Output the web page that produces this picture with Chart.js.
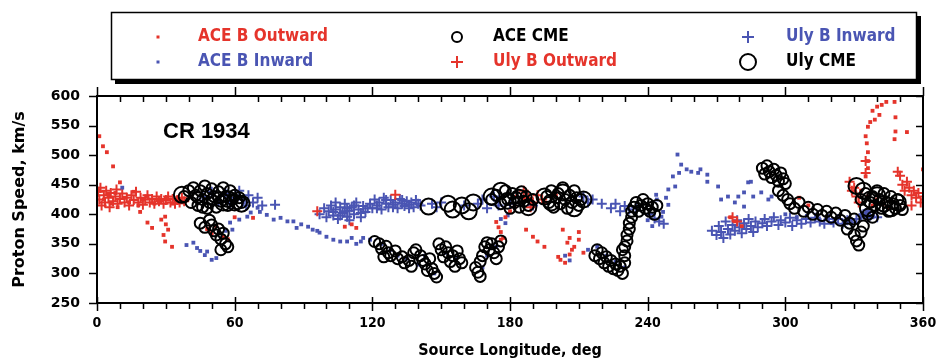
<!DOCTYPE html>
<html>
<head>
<meta charset="utf-8">
<script src="https://cdn.jsdelivr.net/npm/chart.js@4.4.0/dist/chart.umd.min.js"></script>
<style>
  html, body { margin: 0; padding: 0; background: #fff; }
</style>
</head>
<body>
<canvas id="myChart" width="938" height="360"></canvas>
<script>
// values: [source longitude (deg), proton speed (km/s)]
const aceOutward = [
  [1,532],[2.6,515],[4.3,505],[7,481],[10,454],
  [1,440],[3,425],[5,432],[6,418],[8,436],[9,412],[12,428],[14,420],[16,438],[18,415],[20,425],[22,430],
  [25,418],[27,422],[30,426],[33,418],[35,428],[37,420],
  [18.8,404],[22,386],[24,377],[28,391],[29.7,396],[29,365],[29.7,354],[32.7,345],[31,374],[30,383],
  [48,375],[50,368],[52,380],[55,362],[57,358],[60,395],[68,394],
  [108,379],[113,377],[111,383],
  [174,387],[175,378],[176,370],[177,360],[176,357],[178,395],[180,405],[182,412],
  [187,374],[190,362],[192,354],[195,345],
  [201,328],[202,323],[203,374],[205,352],[206,360],[206,332],[207,340],[210,370],[210,357],[212,335],[204,318],[208,345],
  [183,430],[186,425],[195,420],[200,432],
  [276,395],[278,388],[281,380],[306,428],[310,415],
  [335,532],[335.5,520],[336,505],[336,490],[336,478],[335,464],[336,548],[337,556],[338,575],[340,582],
  [342,585],[344,590],[347.6,590],[348,564],[348,540],[353,539],[347.6,527],[341,568],[339,560],
  [333,440],[336,430],[340,425],[343,418],[338,415],[345,410],[360,476]
];
const aceInward = [
  [11,445],[39,348],[42,352],[43.6,343],[47,331],[48,337],[52,326],[50,323],[45,338],
  [58,386],[59,374],[62,391],[65.5,396],[67,403],[70,411],[71,404],[56,372],[54,360],
  [74,399],[77,391],[80,394],[83,388],[85.6,388],[87,377],[92,379],[94,374],[97,369],[100,362],
  [103,357],[106,354],[109,354],[111,360],[115,354],[116,360],[119,357],[89,383],[96,372],[113,350],
  [124,350],[128,340],[131,330],[135,325],[140,315],[143,330],[147,300],[152,335],[156,325],
  [168,310],[170,330],[174,345],[176,392],[179,398],[178,385],
  [206,322],[204,330],[214,340],[218,345],[222,330],[226,320],[230,310],
  [246,396],[246.7,404],[249,416],[248,428],[243.7,433],[249,442],[252,447],[251,464],[253.7,470],
  [254.6,484],[253,501],[257,476],[259,472],[262,470],[263,476],[266,467],[266,455],[270.7,447],
  [244,425],[240,390],[242,380],
  [275,430],[278,420],[279.5,430],[282,437],[283.8,454],[285,455],[282,413],[286,430],[289.5,437],
  [292.6,425],[294,430],[272,425],
  [300,400],[305,395],[315,390],[320,385],[328,392],[334,400],[336,405],[338,395]
];
const aceCme = [
  [38,430],[40,440],[41,420],[42,445],[43,432],[44,415],[45,440],[46,425],[47,448],[48,410],[48,435],
  [49,420],[50,443],[51,430],[52,412],[53,438],[54,422],[55,445],[56,430],[57,415],[58,440],[59,425],
  [60,432],[61,418],[62,428],[63,420],[44,428],[50,425],[46,412],[53,428],
  [45,385],[47,378],[49,390],[50,382],[51,372],[52,365],[53,375],[54,358],[55,368],[56,350],[57,345],[54,340],
  [121,354],[123,350],[124,342],[126,346],[127,335],[128,330],[130,338],[131,325],[133,328],[134,318],
  [136,322],[137,312],[125,328],
  [138,335],[139,340],[141,330],[142,322],[143,316],[145,325],[146,308],[147,300],[148,294],[144,305],
  [149,350],[150,340],[151,328],[152,345],[153,335],[154,320],[155,330],[157,338],[158,325],[159,318],[156,312],
  [165,310],[166,302],[167,320],[168,330],[169,345],[170,352],[171,340],[172,350],[173,335],[174,325],
  [175,345],[176,355],[167,295],
  [172,425],[174,432],[176,418],[178,440],[179,425],[180,410],[181,435],[182,420],[183,428],[184,412],
  [185,438],[186,422],[187,430],[188,415],[190,425],
  [196,430],[197,420],[198,440],[199,412],[200,428],[201,435],[202,418],[203,445],[204,425],[205,410],
  [206,432],[207,420],[208,440],[209,428],[210,415],[211,425],
  [217,330],[218,340],[219,325],[220,335],[221,318],[222,328],[223,312],[224,322],[225,308],[226,316],
  [227,305],[228,312],[229,300],[230,318],[230,330],[230,345],[231,355],[231,365],[232,375],[232,385],
  [233,395],[233,405],[234,412],[235,420],[236,405],[237,415],[238,425],[239,410],[240,418],[241,405],
  [242,412],[243,400],[244,415],[229,340],
  [290,478],[291,468],[292,482],[293,472],[294,462],[295,476],[296,466],[297,456],[298,470],[299,460],[300,452],
  [297,440],[299,432],[301,425],[302,418],[304,410],[306,420],[308,405],[310,412],[312,400],[314,408],
  [316,398],[318,405],[320,395],[322,402],[324,390],[326,398],[328,385],[330,392],[327,375],
  [330,365],[331,355],[332,348],[333,370],[334,380],[333,425],[335,435],[337,420],[338,430],[339,415],
  [340,440],[341,425],[342,410],[343,435],[344,420],[345,405],[346,430],[347,418],[348,410],[349,425],
  [350,415],[351,408],[336,400],[338,395]
];
const ulyOutward = [
  [0.5,438],[1,425],[1.5,445],[2,415],[3,432],[3.5,420],[4,440],[5,428],[5.5,412],[6,436],[7,422],[8,430],
  [8.5,442],[9,418],[10,426],[11,435],[12,420],[13,428],[14,415],[15,432],[16,424],[17,438],[18,420],
  [19,428],[20,416],[21,425],[22,432],[23,420],[24,426],[25,418],[26,430],[27,422],[28,426],[29,418],
  [30,424],[31,430],[32,420],[33,426],[34,418],[35,424],[36,420],[37,428],[38,422],
  [96,405],[130,433],[186,440],[188,428],[190,420],[192,432],[189,412],[194,425],
  [277,395],[279,388],[335,470],[335,490],
  [328,455],[329,440],[331,430],[332,420],[330,445],
  [350,465],[351,450],[352,440],[353,455],[354,445],[355,432],[356,440],[357,428],[358,436],[359,420],
  [360,430],[361,425],[349,472],[355,415]
];
const ulyInward = [
  [46,430],[50,438],[53,422],[56,435],[58,418],[60,428],[62,440],[64,425],[66,432],[68,420],[70,428],
  [72,415],[77.6,416],[65,415],
  [97,400],[99,410],[100,395],[101,405],[102,415],[103,398],[104,408],[105,392],[106,412],[107,402],
  [108,418],[109,396],[110,406],[111,412],[112,400],[113,420],[114,408],[115,395],[116,414],[117,404],
  [118,410],[104,420],[110,390],[103,404],[106,398],[109,410],[112,415],[115,402],[108,405],
  [119,418],[120,410],[121,425],[122,415],[123,420],[124,408],[125,428],[126,418],[127,412],[128,424],
  [129,416],[130,420],[131,410],[132,426],[133,418],[134,414],[135,422],[136,416],[137,420],[138,412],
  [139,424],[140,418],[141,415],[122,410],[126,424],[129,412],[133,424],[136,410],
  [146,418],[148,412],[150,420],[160,415],[166,418],[168,425],[170,410],[173,430],[175,415],[180,418],[190,415],
  [212,430],[214,420],[216,425],[220,418],
  [224,410],[226,418],[228,405],[230,414],[232,408],[235,412],
  [241,400],[243,393],[245,388],[247,384],
  [268,372],[270,365],[271,380],[272,370],[273,360],[274,388],[275,375],[276,366],[277,382],[278,372],
  [279,390],[280,378],[281,368],[282,385],[283,375],[284,392],[285,380],[286,370],[287,388],[288,378],
  [290,385],[291,392],[292,380],[294,388],[295,395],[297,382],[298,390],[300,386],[302,394],[303,380],
  [305,390],[307,384],[309,392],[311,386],[313,394],[315,388],[317,384],[319,392],[321,386],[323,392],
  [325,384],[327,390],[329,386],[331,392],[333,398],[335,402],[337,398],[340,395],[334,400],[336,395]
];
const ulyCme = [
  [37,433],[55,420],[57,426],[60,420],[63,418],
  [144.5,413],[153,418],[155,408],[159,415],[162,405],[164,420],
  [172,430],[176,440],[179,423],[184,428],[188,412],[195,430],[198,420],[203,437],[208,410],[212,425],
  [331,448],[334,440],[337,425],[340,432],[343,418],[346,410],[349,420],[336,410]
];
const xTicks = [0, 60, 120, 180, 240, 300, 360];
const yTicks = [250, 300, 350, 400, 450, 500, 550, 600];

const RED = "#e5342b";
const BLUE = "#4a55b3";

function toPoints(list) {
  return list.map(function (p) { return { x: p[0], y: p[1] }; });
}

const frame = {
  id: "frame",
  afterDraw(chart) {
    const ctx = chart.ctx;
    const a = chart.chartArea;
    const xs = chart.scales.x;
    const ys = chart.scales.y;
    ctx.save();
    ctx.strokeStyle = "#000";
    ctx.lineWidth = 2;
    ctx.strokeRect(a.left, a.top, a.right - a.left, a.bottom - a.top);

    ctx.lineWidth = 1.5;
    for (let lon = 0; lon <= 360; lon += 10) {
      const px = Math.round(xs.getPixelForValue(lon)) + 0.5;
      ctx.beginPath();
      if (lon % 60 === 0) {
        ctx.moveTo(px, a.bottom - 6); ctx.lineTo(px, a.bottom + 8);
        ctx.moveTo(px, a.top - 9); ctx.lineTo(px, a.top);
      } else {
        ctx.moveTo(px, a.bottom); ctx.lineTo(px, a.bottom + 6);
        ctx.moveTo(px, a.top); ctx.lineTo(px, a.top + 6);
      }
      ctx.stroke();
    }
    yTicks.forEach(function (v) {
      const py = Math.round(ys.getPixelForValue(v)) + 0.5;
      ctx.beginPath();
      ctx.moveTo(a.left - 8, py); ctx.lineTo(a.left, py);
      ctx.moveTo(a.right - 7, py); ctx.lineTo(a.right, py);
      ctx.stroke();
    });

    // panel label
    ctx.fillStyle = "#000";
    ctx.font = "bold 22px 'Liberation Sans', Arial, sans-serif";
    ctx.textBaseline = "middle";
    ctx.textAlign = "left";
    ctx.fillText("CR 1934", a.left + 66, a.top + 36);

    // legend box with drop shadow
    ctx.fillStyle = "#000";
    ctx.fillRect(115, 16, 806, 68);
    ctx.fillStyle = "#fff";
    ctx.fillRect(111, 12, 806, 68);
    ctx.lineWidth = 1.5;
    ctx.strokeRect(111.5, 12.5, 805, 67);

    const rows = [37, 62];
    const items = [
      { mx: 158, tx: 198, row: 0, kind: "dot", color: RED, text: "ACE B Outward" },
      { mx: 158, tx: 198, row: 1, kind: "dot", color: BLUE, text: "ACE B Inward" },
      { mx: 457, tx: 493, row: 0, kind: "ring", r: 5, color: "#000", text: "ACE CME" },
      { mx: 457, tx: 493, row: 1, kind: "plus", color: RED, text: "Uly B Outward" },
      { mx: 748, tx: 786, row: 0, kind: "plus", color: BLUE, text: "Uly B Inward" },
      { mx: 748, tx: 786, row: 1, kind: "ring", r: 8, color: "#000", text: "Uly CME" }
    ];
    ctx.font = "bold 17px 'DejaVu Sans Condensed', sans-serif";
    items.forEach(function (it) {
      const y = rows[it.row];
      ctx.fillStyle = it.color;
      ctx.strokeStyle = it.color;
      if (it.kind === "dot") {
        ctx.fillRect(it.mx - 1.5, y - 1.5, 3, 3);
      } else if (it.kind === "ring") {
        ctx.lineWidth = 2;
        ctx.beginPath();
        ctx.arc(it.mx, y, it.r, 0, Math.PI * 2);
        ctx.stroke();
      } else {
        ctx.lineWidth = 2;
        ctx.beginPath();
        ctx.moveTo(it.mx - 6, y); ctx.lineTo(it.mx + 6, y);
        ctx.moveTo(it.mx, y - 6); ctx.lineTo(it.mx, y + 6);
        ctx.stroke();
      }
      ctx.fillText(it.text, it.tx, y);
    });
    ctx.restore();
  }
};

const ctx = document.getElementById("myChart").getContext("2d");
const myChart = new Chart(ctx, {
  type: "scatter",
  data: {
    datasets: [
      { label: "Uly CME", data: toPoints(ulyCme), pointStyle: "circle", pointRadius: 8,
        backgroundColor: "rgba(0,0,0,0)", borderColor: "#000", borderWidth: 2, order: 1 },
      { label: "ACE CME", data: toPoints(aceCme), pointStyle: "circle", pointRadius: 5.5,
        backgroundColor: "rgba(0,0,0,0)", borderColor: "#000", borderWidth: 2, order: 2 },
      { label: "ACE B Outward", data: toPoints(aceOutward), pointStyle: "rect", pointRadius: 2.7,
        backgroundColor: RED, borderWidth: 0, order: 3 },
      { label: "ACE B Inward", data: toPoints(aceInward), pointStyle: "rect", pointRadius: 2.7,
        backgroundColor: BLUE, borderWidth: 0, order: 4 },
      { label: "Uly B Outward", data: toPoints(ulyOutward), pointStyle: "cross", pointRadius: 5,
        borderColor: RED, borderWidth: 2, order: 5 },
      { label: "Uly B Inward", data: toPoints(ulyInward), pointStyle: "cross", pointRadius: 5,
        borderColor: BLUE, borderWidth: 2, order: 6 }
    ]
  },
  options: {
    responsive: false,
    animation: false,
    layout: { padding: { top: 96, right: 15, left: 0, bottom: 0 } },
    plugins: { legend: { display: false }, tooltip: { enabled: false } },
    scales: {
      x: {
        type: "linear", min: 0, max: 360,
        grid: { display: false, drawTicks: false },
        border: { display: false },
        afterBuildTicks: function (s) { s.ticks = xTicks.map(function (v) { return { value: v }; }); },
        afterFit: function (s) { s.height = 57; s.paddingLeft = 0; s.paddingRight = 0; },
        ticks: { padding: 12, color: "#000", maxRotation: 0, autoSkip: false,
          font: { family: "'DejaVu Sans Condensed'", size: 14, weight: "bold" } },
        title: { display: true, text: "Source Longitude, deg", color: "#000", padding: { top: 0, bottom: 0 },
          font: { family: "'DejaVu Sans Condensed'", size: 16, weight: "bold" } }
      },
      y: {
        min: 250, max: 600,
        grid: { display: false, drawTicks: false },
        border: { display: false },
        afterBuildTicks: function (s) { s.ticks = yTicks.map(function (v) { return { value: v }; }); },
        afterFit: function (s) { s.width = 97; s.paddingTop = 0; s.paddingBottom = 0; },
        ticks: { padding: 17, color: "#000",
          font: { family: "'DejaVu Sans'", size: 14, weight: "bold" } },
        title: { display: true, text: "Proton Speed, km/s", color: "#000", padding: { top: 10, bottom: 0 },
          font: { family: "'DejaVu Sans'", size: 16, weight: "bold" } }
      }
    }
  },
  plugins: [frame]
});
</script>
</body>
</html>
